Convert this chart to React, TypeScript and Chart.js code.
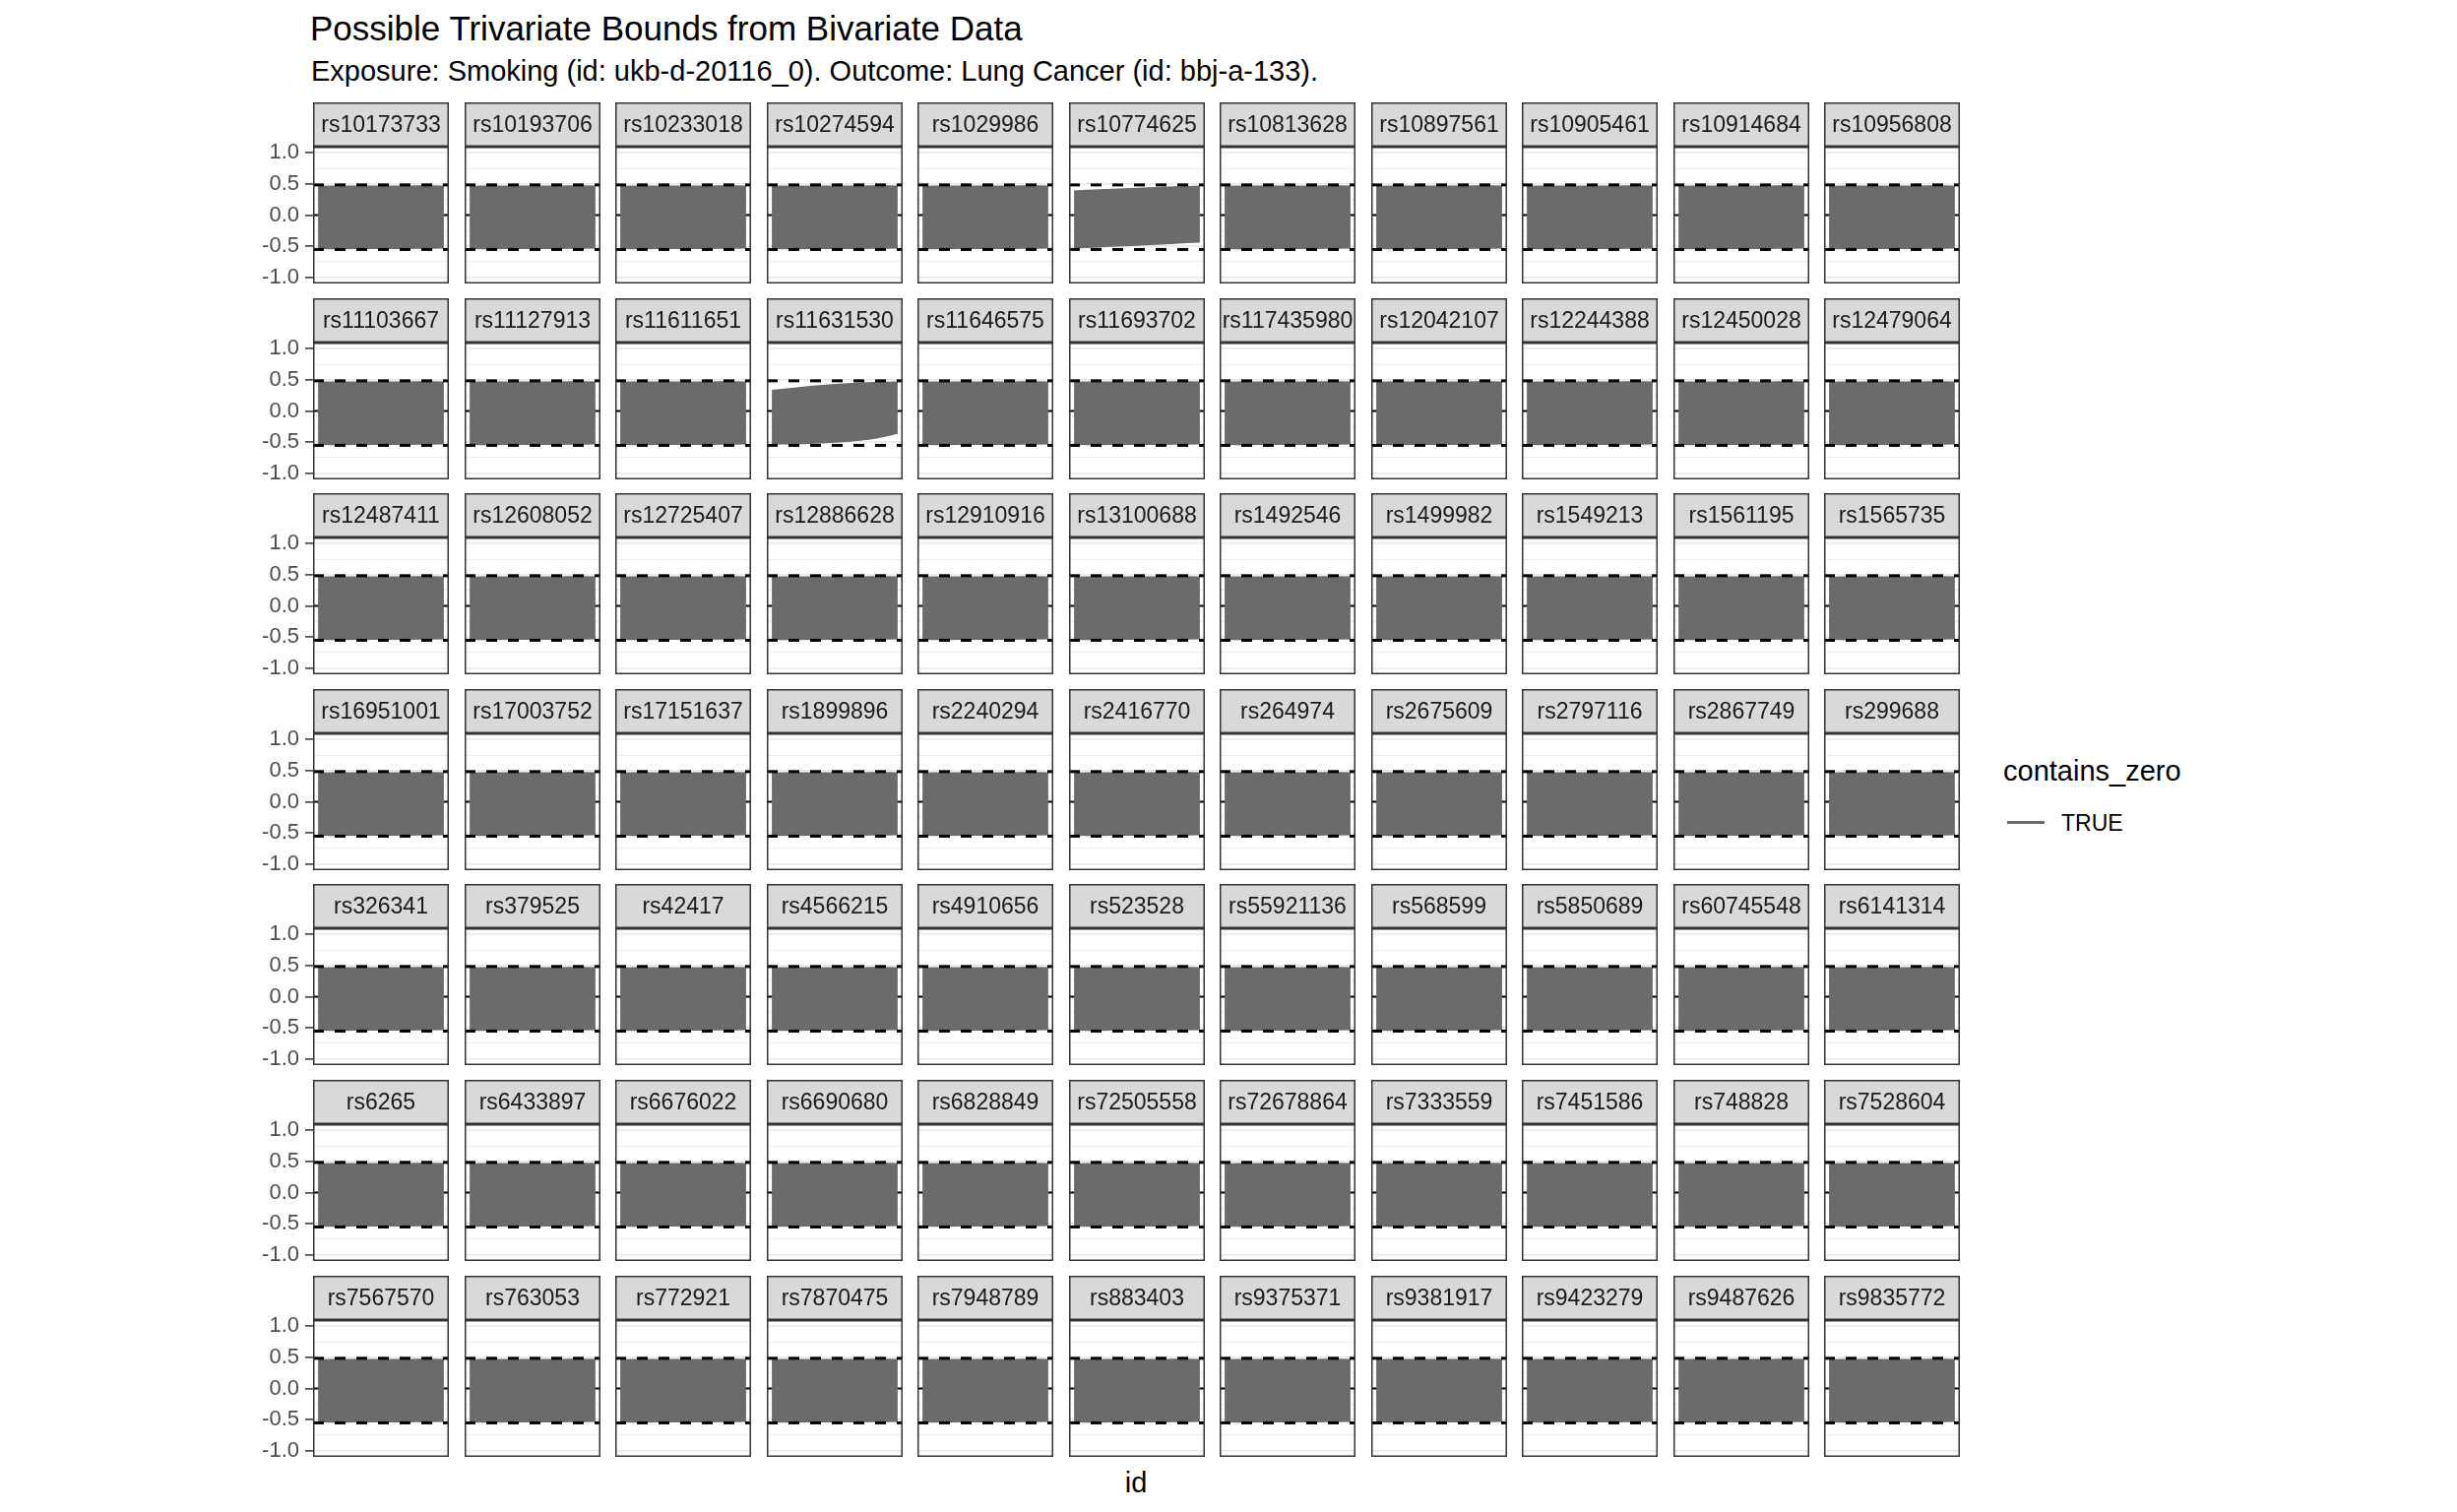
import React, { useEffect, useRef } from "react";
import { Chart, registerables } from "chart.js";

Chart.register(...registerables);

const FONT = '"Liberation Sans", Arial, Helvetica, sans-serif';

const TITLE = "Possible Trivariate Bounds from Bivariate Data";
const SUBTITLE = "Exposure: Smoking (id: ukb-d-20116_0). Outcome: Lung Cancer (id: bbj-a-133).";
const X_TITLE = "id";
const LEGEND_TITLE = "contains_zero";
const LEGEND_LABELS = ["TRUE"];

const PANEL_IDS: string[] = [
  "rs10173733", "rs10193706", "rs10233018", "rs10274594", "rs1029986", "rs10774625", "rs10813628", "rs10897561", "rs10905461", "rs10914684", "rs10956808",
  "rs11103667", "rs11127913", "rs11611651", "rs11631530", "rs11646575", "rs11693702", "rs117435980", "rs12042107", "rs12244388", "rs12450028", "rs12479064",
  "rs12487411", "rs12608052", "rs12725407", "rs12886628", "rs12910916", "rs13100688", "rs1492546", "rs1499982", "rs1549213", "rs1561195", "rs1565735",
  "rs16951001", "rs17003752", "rs17151637", "rs1899896", "rs2240294", "rs2416770", "rs264974", "rs2675609", "rs2797116", "rs2867749", "rs299688",
  "rs326341", "rs379525", "rs42417", "rs4566215", "rs4910656", "rs523528", "rs55921136", "rs568599", "rs5850689", "rs60745548", "rs6141314",
  "rs6265", "rs6433897", "rs6676022", "rs6690680", "rs6828849", "rs72505558", "rs72678864", "rs7333559", "rs7451586", "rs748828", "rs7528604",
  "rs7567570", "rs763053", "rs772921", "rs7870475", "rs7948789", "rs883403", "rs9375371", "rs9381917", "rs9423279", "rs9487626", "rs9835772",
];

// position along each panel's x (id) axis
const STEP = [0, 1, 2, 3, 4, 5, 6, 7, 8, 9, 10];

// typical bounds (almost all panels)
const UPPER_TYPICAL = [0.458, 0.462, 0.463, 0.463, 0.463, 0.463, 0.464, 0.464, 0.465, 0.465, 0.464];
const LOWER_TYPICAL = [-0.535, -0.537, -0.537, -0.536, -0.536, -0.535, -0.534, -0.533, -0.532, -0.53, -0.527];

// rs10774625
const UPPER_RS10774625 = [0.384, 0.394, 0.404, 0.412, 0.42, 0.428, 0.436, 0.443, 0.45, 0.457, 0.463];
const LOWER_RS10774625 = [-0.527, -0.518, -0.509, -0.5, -0.491, -0.482, -0.472, -0.462, -0.452, -0.441, -0.43];

// rs11631530
const UPPER_RS11631530 = [0.328, 0.35, 0.37, 0.39, 0.408, 0.424, 0.437, 0.447, 0.455, 0.46, 0.463];
const LOWER_RS11631530 = [-0.53, -0.528, -0.525, -0.519, -0.511, -0.5, -0.486, -0.468, -0.443, -0.405, -0.355];

// reference lines
const DASH_UPPER = 0.485;
const DASH_LOWER = -0.553;
const ZERO_REF = 0;

const Y_MAJOR = [-1, -0.5, 0, 0.5, 1];
const Y_MINOR = [-0.75, -0.25, 0.25, 0.75];
const Y_MIN = -1.1;
const Y_MAX = 1.1;
const X_MIN = -0.4;
const X_MAX = 10.4;

// layout
const N_COLS = 11;
const PANEL_LEFT = 318;
const COL_PITCH = 153.5;
const PANEL_W = 138;
const ROW_TOP = 104;
const ROW_PITCH = 198.6;
const STRIP_H = 45;
const PLOT_H = 139;
const AXIS_W = 68;

const BAND_GRAY = "#6B6B6B";

const SPECIAL: Record<string, { upper: number[]; lower: number[] }> = {
  rs10774625: { upper: UPPER_RS10774625, lower: LOWER_RS10774625 },
  rs11631530: { upper: UPPER_RS11631530, lower: LOWER_RS11631530 },
};

const Y_GRID = [...Y_MINOR, ...Y_MAJOR].sort((a, b) => a - b);

const framePlugin = {
  id: "facetFrame",
  beforeDraw(chart: any) {
    const { ctx, chartArea: a } = chart;
    ctx.save();
    ctx.fillStyle = "#D9D9D9";
    ctx.fillRect(a.left, 0, a.right - a.left, STRIP_H);
    ctx.strokeStyle = "#333333";
    ctx.lineWidth = 1.5;
    ctx.strokeRect(a.left + 0.75, 0.75, a.right - a.left - 1.5, STRIP_H - 1.5);
    ctx.restore();
  },
  afterDraw(chart: any) {
    const { ctx, chartArea: a } = chart;
    ctx.save();
    ctx.strokeStyle = "#333333";
    ctx.lineWidth = 1.5;
    ctx.strokeRect(a.left + 0.75, a.top + 0.75, a.right - a.left - 1.5, a.bottom - a.top - 1.5);
    ctx.restore();
  },
};

function Panel({ id, index }: { id: string; index: number }) {
  const ref = useRef<HTMLCanvasElement>(null);
  const col = index % N_COLS;
  const row = Math.floor(index / N_COLS);
  const showAxis = col === 0;
  const panelLeft = Math.round(PANEL_LEFT + col * COL_PITCH);
  const left = panelLeft - (showAxis ? AXIS_W : 0);
  const top = Math.round(ROW_TOP + row * ROW_PITCH);
  const w = PANEL_W + (showAxis ? AXIS_W : 0);
  const h = STRIP_H + PLOT_H;

  useEffect(() => {
    const b = SPECIAL[id] ?? { upper: UPPER_TYPICAL, lower: LOWER_TYPICAL };
    const chart = new Chart(ref.current as HTMLCanvasElement, {
      type: "line",
      data: {
        datasets: [
          {
            data: [{ x: X_MIN, y: DASH_UPPER }, { x: X_MAX, y: DASH_UPPER }],
            borderColor: "#000000",
            borderWidth: 3,
            borderDash: [11, 11],
            pointRadius: 0,
            fill: false,
          },
          {
            data: [{ x: X_MIN, y: DASH_LOWER }, { x: X_MAX, y: DASH_LOWER }],
            borderColor: "#000000",
            borderWidth: 3,
            borderDash: [11, 11],
            pointRadius: 0,
            fill: false,
          },
          {
            data: STEP.map((x, i) => ({ x, y: b.upper[i] })),
            borderColor: BAND_GRAY,
            backgroundColor: BAND_GRAY,
            borderWidth: 1.5,
            pointRadius: 0,
            fill: "+1",
          },
          {
            data: STEP.map((x, i) => ({ x, y: b.lower[i] })),
            borderColor: BAND_GRAY,
            borderWidth: 1.5,
            pointRadius: 0,
            fill: false,
          },
          {
            data: [{ x: X_MIN, y: ZERO_REF }, { x: X_MAX, y: ZERO_REF }],
            borderColor: "#000000",
            borderWidth: 2,
            pointRadius: 0,
            fill: false,
          },
        ],
      } as any,
      options: {
        animation: false,
        responsive: false,
        maintainAspectRatio: false,
        devicePixelRatio: 1,
        layout: { padding: { top: STRIP_H, left: 0, right: 0, bottom: 0 } },
        plugins: {
          legend: { display: false },
          tooltip: { enabled: false },
          title: { display: false },
        },
        events: [],
        scales: {
          x: { type: "linear", min: X_MIN, max: X_MAX, display: false },
          y: {
            type: "linear",
            min: Y_MIN,
            max: Y_MAX,
            position: "left",
            afterBuildTicks: (s: any) => {
              s.ticks = Y_GRID.map((v) => ({ value: v }));
            },
            afterFit: (s: any) => {
              s.width = showAxis ? AXIS_W : 0;
              s.paddingTop = 0;
              s.paddingBottom = 0;
            },
            border: { display: false },
            grid: {
              color: "#EBEBEB",
              lineWidth: (ctx: any) => (Y_MAJOR.includes(ctx.tick?.value) ? 1.8 : 0.9),
              drawTicks: showAxis,
              tickLength: 8,
              tickWidth: 1.5,
              tickColor: (ctx: any) => (Y_MAJOR.includes(ctx.tick?.value) ? "#333333" : "rgba(0,0,0,0)"),
            },
            ticks: {
              display: showAxis,
              autoSkip: false,
              padding: 6,
              color: "#4D4D4D",
              font: { family: FONT, size: 22 },
              callback: (v: any) => (Y_MAJOR.includes(Number(v)) ? Number(v).toFixed(1) : ""),
            },
          },
        },
      } as any,
      plugins: [framePlugin],
    });
    return () => chart.destroy();
  }, [id, showAxis]);

  return (
    <div style={{ position: "absolute", left, top, width: w, height: h }}>
      <canvas ref={ref} width={w} height={h} style={{ width: w, height: h, display: "block" }} />
      <div
        style={{
          position: "absolute",
          left: showAxis ? AXIS_W : 0,
          top: 0,
          width: PANEL_W,
          height: STRIP_H,
          display: "flex",
          alignItems: "center",
          justifyContent: "center",
          fontSize: 23,
          lineHeight: 1,
          color: "#1A1A1A",
          whiteSpace: "nowrap",
        }}
      >
        {id}
      </div>
    </div>
  );
}

export default function App() {
  return (
    <div
      style={{
        position: "absolute",
        left: 0,
        top: 0,
        width: 2496,
        height: 1536,
        background: "#ffffff",
        fontFamily: FONT,
        overflow: "hidden",
      }}
    >
      <div style={{ position: "absolute", left: 315, top: 11, fontSize: 35, lineHeight: 1, color: "#000", whiteSpace: "nowrap" }}>
        {TITLE}
      </div>
      <div style={{ position: "absolute", left: 316, top: 58, fontSize: 29, lineHeight: 1, color: "#000", whiteSpace: "nowrap" }}>
        {SUBTITLE}
      </div>
      {PANEL_IDS.map((id, i) => (
        <Panel key={id} id={id} index={i} />
      ))}
      <div
        style={{
          position: "absolute",
          left: 1054,
          width: 200,
          top: 1492,
          textAlign: "center",
          fontSize: 29,
          lineHeight: 1,
          color: "#000",
        }}
      >
        {X_TITLE}
      </div>
      <div style={{ position: "absolute", left: 2035, top: 769, fontSize: 29, lineHeight: 1, color: "#000", whiteSpace: "nowrap" }}>
        {LEGEND_TITLE}
      </div>
      {LEGEND_LABELS.map((lab, i) => (
        <div key={lab}>
          <div style={{ position: "absolute", left: 2039, top: 834 + i * 40, width: 38, height: 2.5, background: BAND_GRAY }} />
          <div style={{ position: "absolute", left: 2094, top: 825 + i * 40, fontSize: 23, lineHeight: 1, color: "#000", whiteSpace: "nowrap" }}>
            {lab}
          </div>
        </div>
      ))}
    </div>
  );
}
